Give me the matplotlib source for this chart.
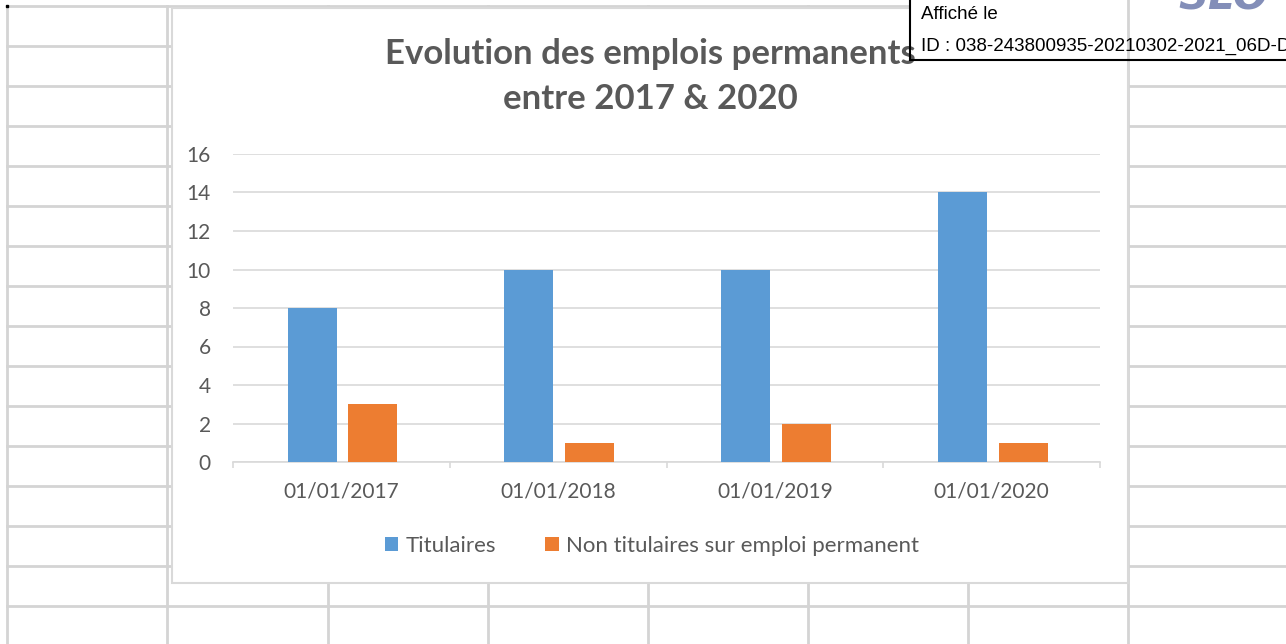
import matplotlib.pyplot as plt
from matplotlib.patches import Rectangle
import numpy as np

# data
categories = ["01/01/2017", "01/01/2018", "01/01/2019", "01/01/2020"]
titulaires = [8, 10, 10, 14]
non_titulaires = [3, 1, 2, 1]
series_names = ["Titulaires", "Non titulaires sur emploi permanent"]
title = "Evolution des emplois permanents\nentre 2017 & 2020"

W, H = 1286, 644
grey_txt = "#595959"
grid_c = "#d9d9d9"
sheet_c = "#d4d4d4"

fig = plt.figure(figsize=(W / 100, H / 100), dpi=100)

# spreadsheet background (pixel coordinates)
bg = fig.add_axes([0, 0, 1, 1], zorder=0)
bg.set_xlim(0, W)
bg.set_ylim(H, 0)
bg.axis("off")
for x in [7, 167, 328, 488, 648, 808, 968, 1128]:
    bg.plot([x, x], [6, H], color=sheet_c, lw=2, zorder=1)
for y in range(6, H, 40):
    bg.plot([7, W], [y, y], color=sheet_c, lw=2, zorder=1)
bg.plot([7], [6], marker="s", ms=2, color="black")
# chart area
bg.add_patch(Rectangle((172, 8), 956, 575, facecolor="white", edgecolor=grid_c, lw=1.5, zorder=5))

# chart
ax = fig.add_axes([233 / W, (H - 462) / H, 867 / W, 308 / H], zorder=2)
ax.set_facecolor("none")
x = np.arange(len(categories))
bw = 0.226
ax.bar(x - 0.135, titulaires, bw, color="#5B9BD5", label=series_names[0], zorder=3)
ax.bar(x + 0.145, non_titulaires, bw, color="#ED7D31", label=series_names[1], zorder=3)
ax.set_xlim(-0.5, len(categories) - 0.5)
ax.set_ylim(0, 16)
ax.set_yticks(range(0, 17, 2))
ax.yaxis.grid(True, color=grid_c, lw=1.2)
ax.set_axisbelow(True)
for s in ["top", "right", "left"]:
    ax.spines[s].set_visible(False)
ax.spines["bottom"].set_color(grid_c)
ax.spines["bottom"].set_linewidth(1.2)
ax.set_xticks(x)
ax.set_xticklabels(categories)
ax.set_xticks(np.arange(-0.5, len(categories)), minor=True)
ax.tick_params(axis="x", which="major", length=0, pad=14, labelsize=15, labelcolor=grey_txt)
ax.tick_params(axis="x", which="minor", length=4, width=1.2, color=grid_c)
ax.tick_params(axis="y", length=0, pad=16, labelsize=15, labelcolor=grey_txt)
for lab in ax.get_xticklabels() + ax.get_yticklabels():
    lab.set_fontfamily("Lato")

leg = fig.legend(loc="center", bbox_to_anchor=(652 / W, 1 - 546 / H), ncol=2, frameon=False,
                 handlelength=0.6, handleheight=0.6, handletextpad=0.35, columnspacing=2.2,
                 prop={"family": "Lato", "size": 16})
for t in leg.get_texts():
    t.set_color(grey_txt)

# stamp overlay
ov = fig.add_axes([0, 0, 1, 1], zorder=5)
ov.set_xlim(0, W)
ov.set_ylim(H, 0)
ov.axis("off")
ov.set_facecolor("none")
ov.add_patch(Rectangle((910, -5), 400, 65, facecolor="white", edgecolor="none", zorder=1))
ov.plot([1128, 1128], [0, 60], color=sheet_c, lw=2, zorder=2)
ov.text(650, 76, title, ha="center", va="center", fontsize=25,
        fontweight="bold", color=grey_txt, family="Lato", linespacing=1.5, zorder=3)
ov.add_patch(Rectangle((910, -5), 400, 65, facecolor="none", edgecolor="black", lw=1.5, zorder=4))
ov.text(921, 14, "Affiché le", fontsize=13.5, family="Liberation Sans", va="center", color="black", zorder=5)
ov.text(921, 46, "ID : 038-243800935-20210302-2021_06D-D", fontsize=13.5, family="Liberation Sans",
        va="center", color="black", zorder=5)
ov.text(1178, 9, "SLO", fontsize=30, fontweight="bold", style="italic", color="#4f5f9a",
        family="DejaVu Sans", va="baseline", alpha=0.7, zorder=5)

fig.savefig("out.png", dpi=100)
